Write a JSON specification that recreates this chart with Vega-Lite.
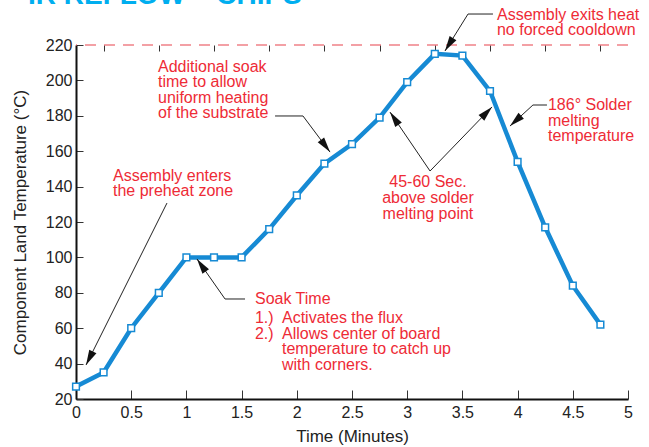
{
  "$schema": "https://vega.github.io/schema/vega-lite/v6.json",
  "width": 552,
  "height": 354,
  "autosize": {"type": "none"},
  "padding": {"left": 76, "top": 45, "right": 21, "bottom": 48},
  "background": "white",
  "config": {
    "view": {"stroke": null},
    "font": "Liberation Sans",
    "text": {"font": "Liberation Sans"},
    "axis": {"labelOverlap": false, "labelFlush": false, "grid": false},
    "axisY": {"labelOverlap": false, "tickCount": 11}
  },
  "datasets": {
    "profile": [
      {"t": 0, "temp": 27}, {"t": 0.25, "temp": 35}, {"t": 0.5, "temp": 60}, {"t": 0.75, "temp": 80},
      {"t": 1, "temp": 100}, {"t": 1.25, "temp": 100}, {"t": 1.5, "temp": 100}, {"t": 1.75, "temp": 116},
      {"t": 2, "temp": 135}, {"t": 2.25, "temp": 153}, {"t": 2.5, "temp": 164}, {"t": 2.75, "temp": 179},
      {"t": 3, "temp": 199}, {"t": 3.25, "temp": 215}, {"t": 3.5, "temp": 214}, {"t": 3.75, "temp": 194},
      {"t": 4, "temp": 154}, {"t": 4.25, "temp": 117}, {"t": 4.5, "temp": 84}, {"t": 4.75, "temp": 62}
    ],
    "arrows": [
      {"a": "exit", "i": 0, "x": 3.777, "y": 237.5, "tip": false},
      {"a": "exit", "i": 1, "x": 3.551, "y": 237.5, "tip": false},
      {"a": "exit", "i": 2, "x": 3.342, "y": 216.6, "tip": true},
      {"a": "solder", "i": 0, "x": 4.266, "y": 186.1, "tip": false},
      {"a": "solder", "i": 1, "x": 4.139, "y": 186.1, "tip": false},
      {"a": "solder", "i": 2, "x": 3.931, "y": 174.2, "tip": true},
      {"a": "window1", "i": 0, "x": 3.207, "y": 148.8, "tip": false},
      {"a": "window1", "i": 1, "x": 2.844, "y": 182.1, "tip": true},
      {"a": "window2", "i": 0, "x": 3.207, "y": 148.8, "tip": false},
      {"a": "window2", "i": 1, "x": 3.768, "y": 185.0, "tip": true},
      {"a": "substrate", "i": 0, "x": 1.803, "y": 179.9, "tip": false},
      {"a": "substrate", "i": 1, "x": 2.056, "y": 179.9, "tip": false},
      {"a": "substrate", "i": 2, "x": 2.301, "y": 159.5, "tip": true},
      {"a": "preheat", "i": 0, "x": 0.824, "y": 130.7, "tip": false},
      {"a": "preheat", "i": 1, "x": 0.091, "y": 39.2, "tip": true},
      {"a": "soak", "i": 0, "x": 1.531, "y": 76.5, "tip": false},
      {"a": "soak", "i": 1, "x": 1.35, "y": 76.5, "tip": false},
      {"a": "soak", "i": 2, "x": 1.096, "y": 99.1, "tip": true}
    ],
    "notes": [
      {"x": 3.813, "y": 234.4, "label": "Assembly exits heat\nno forced cooldown"},
      {"x": 4.275, "y": 183.1, "label": "186° Solder\nmelting\ntemperature"},
      {"x": 0.743, "y": 204.9, "label": "Additional soak\ntime to allow\nuniform heating\nof the substrate"},
      {"x": 0.335, "y": 143.3, "label": "Assembly enters\nthe preheat zone"},
      {"x": 1.621, "y": 73.5, "label": "Soak Time"},
      {"x": 1.621, "y": 62.8, "label": "1.)\n2.)"},
      {"x": 1.866, "y": 62.8, "label": "Activates the flux\nAllows center of board\ntemperature to catch up\nwith corners."}
    ],
    "centered": [
      {"x": 3.188, "y": 139.6, "label": "45-60 Sec.\nabove solder\nmelting point"}
    ],
    "heading": [
      {"x": -0.435, "y": 243.2, "label": "IR REFLOW – CHIPS"}
    ]
  },
  "resolve": {"axis": {"x": "independent"}},
  "layer": [
    {
      "data": {"name": "profile"},
      "mark": {"type": "line", "color": "#168ad4", "strokeWidth": 4.5},
      "encoding": {
        "x": {
          "field": "t", "type": "quantitative",
          "scale": {"domain": [0, 5], "nice": false, "zero": false},
          "axis": {
            "title": "Time (Minutes)",
            "values": [0, 0.5, 1, 1.5, 2, 2.5, 3, 3.5, 4, 4.5, 5],
            "format": "~g",
            "grid": false,
            "tickSize": -9, "tickColor": "#333", "tickWidth": 1,
            "domainColor": "#111", "domainWidth": 2,
            "labelPadding": 14, "labelFontSize": 16, "labelColor": "#222", "labelFlush": false, "labelOverlap": false,
            "titleFontSize": 17, "titleFontWeight": "normal", "titleColor": "#222", "titlePadding": 8
          }
        },
        "y": {
          "field": "temp", "type": "quantitative",
          "scale": {"domain": [20, 220], "nice": false, "zero": false},
          "axis": {
            "title": "Component Land Temperature (°C)",
            "values": [20, 40, 60, 80, 100, 120, 140, 160, 180, 200, 220],
            "grid": false,
            "tickSize": -7, "tickColor": "#333", "tickWidth": 1,
            "domainColor": "#111", "domainWidth": 2,
            "labelPadding": 11, "labelFontSize": 16, "labelColor": "#222", "labelFlush": false, "labelOverlap": false,
            "titleFontSize": 17, "titleFontWeight": "normal", "titleColor": "#222", "titlePadding": 16
          }
        }
      }
    },
    {
      "data": {"values": [{"y": 220}]},
      "mark": {"type": "rule", "color": "#e8434d", "strokeWidth": 1.2, "strokeDash": [11, 8]},
      "encoding": {
        "y": {"field": "y", "type": "quantitative"}
      }
    },
    {
      "data": {"name": "profile"},
      "mark": {"type": "point", "shape": "square", "filled": true, "fill": "white", "stroke": "#168ad4", "strokeWidth": 1.5, "size": 45, "opacity": 1},
      "encoding": {
        "x": {"field": "t", "type": "quantitative", "axis": null},
        "y": {"field": "temp", "type": "quantitative"}
      }
    },
    {
      "data": {"name": "arrows"},
      "mark": {"type": "line", "color": "#222", "strokeWidth": 1, "clip": false},
      "encoding": {
        "x": {
          "field": "x", "type": "quantitative",
          "axis": {
            "values": [0.25, 0.75, 1.25, 1.75, 2.25, 2.75, 3.25, 3.75, 4.25, 4.75],
            "labels": false, "domain": false, "grid": false, "title": null,
            "tickSize": -6, "tickColor": "#333", "tickWidth": 1
          }
        },
        "y": {"field": "y", "type": "quantitative"},
        "detail": {"field": "a"},
        "order": {"field": "i", "type": "quantitative"}
      }
    },
    {
      "data": {"name": "arrows"},
      "transform": [
        {"window": [{"op": "lag", "field": "x", "as": "px"}, {"op": "lag", "field": "y", "as": "py"}], "groupby": ["a"], "sort": [{"field": "i", "order": "ascending"}]},
        {"filter": "datum.tip"},
        {"calculate": "atan2((datum.x - datum.px) * width / 5, (datum.y - datum.py) * height / 200) * 180 / PI", "as": "ang"}
      ],
      "mark": {"type": "point", "shape": "M0,0L0.5,1.9L-0.5,1.9Z", "filled": true, "color": "#111", "size": 256, "opacity": 1, "strokeWidth": 0},
      "encoding": {
        "x": {"field": "x", "type": "quantitative", "axis": null},
        "y": {"field": "y", "type": "quantitative"},
        "angle": {"field": "ang", "type": "quantitative", "scale": null}
      }
    },
    {
      "data": {"name": "notes"},
      "mark": {"type": "text", "align": "left", "baseline": "alphabetic", "fontSize": 16, "lineHeight": 15.5, "color": "#ee2b36", "lineBreak": "\n"},
      "encoding": {
        "x": {"field": "x", "type": "quantitative", "axis": null},
        "y": {"field": "y", "type": "quantitative"},
        "text": {"field": "label"}
      }
    },
    {
      "data": {"name": "centered"},
      "mark": {"type": "text", "align": "center", "baseline": "alphabetic", "fontSize": 16, "lineHeight": 16, "color": "#ee2b36", "lineBreak": "\n"},
      "encoding": {
        "x": {"field": "x", "type": "quantitative", "axis": null},
        "y": {"field": "y", "type": "quantitative"},
        "text": {"field": "label"}
      }
    },
    {
      "data": {"name": "heading"},
      "mark": {"type": "text", "align": "left", "baseline": "alphabetic", "fontSize": 28, "fontWeight": "bold", "color": "#00aeef"},
      "encoding": {
        "x": {"field": "x", "type": "quantitative", "axis": null},
        "y": {"field": "y", "type": "quantitative"},
        "text": {"field": "label"}
      }
    }
  ]
}
